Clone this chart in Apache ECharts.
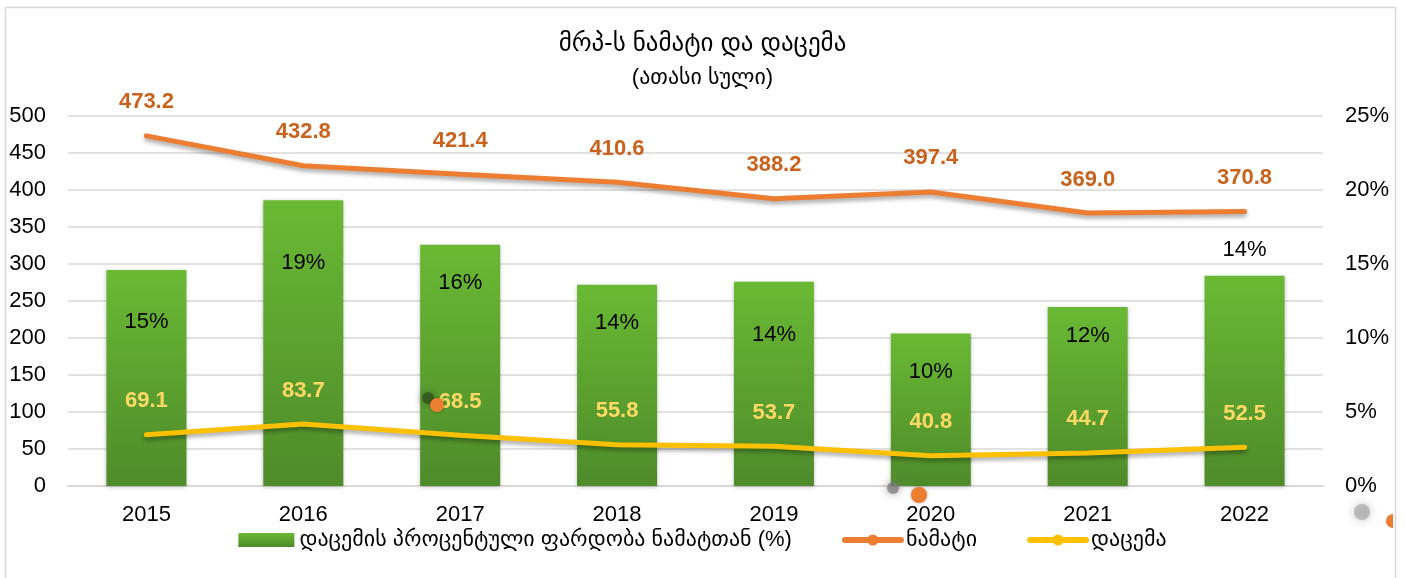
<!DOCTYPE html>
<html>
<head>
<meta charset="utf-8">
<script src="https://cdn.jsdelivr.net/npm/echarts@6/dist/echarts.min.js"></script>
<style>
html, body { margin: 0; padding: 0; background: #fff; }
#chart { width: 1405px; height: 578px; }
</style>
</head>
<body>
<div id="chart"></div>
<script>
// data
const years = ['2015', '2016', '2017', '2018', '2019', '2020', '2021', '2022']
const growth = [473.2, 432.8, 421.4, 410.6, 388.2, 397.4, 369.0, 370.8]
const decline = [69.1, 83.7, 68.5, 55.8, 53.7, 40.8, 44.7, 52.5]
const declineShare = [14.6, 19.3, 16.3, 13.6, 13.8, 10.3, 12.1, 14.2]
const shareLabels = ['15%', '19%', '16%', '14%', '14%', '10%', '12%', '14%']
// vertical nudge of each percent label (Excel placed them unevenly)
const shareLabelDy = [36, 47, 22, 22, 37, 22, 13, -10]

const names = ['დაცემის პროცენტული ფარდობა ნამატთან (%)', 'ნამატი', 'დაცემა']
const font = 'Liberation Sans, Arial, DejaVu Sans, sans-serif'

const chart = echarts.init(document.getElementById('chart'))

const barData = declineShare.map((v, i) => {
  const above = shareLabelDy[i] < 0
  return {
    value: v,
    label: {
      position: above ? 'top' : 'insideTop',
      offset: [0, shareLabelDy[i]],
      formatter: shareLabels[i]
    }
  }
})

// stray marker blobs that sit in the original picture
const dot = (x, y, r) => ({
  type: 'circle',
  shape: { cx: x, cy: y, r: r },
  style: { fill: '#ED7D31', shadowColor: 'rgba(0,0,0,0.3)', shadowBlur: 3 },
  silent: true,
  z: 10
})
const smudge = (x, y, r, color) => ({
  type: 'circle',
  shape: { cx: x, cy: y, r: r },
  style: { fill: color, opacity: 0.7, shadowColor: color, shadowBlur: 8 },
  silent: true,
  z: 9
})

const option = {
  backgroundColor: '#fff',
  animation: false,
  textStyle: { fontFamily: font },
  title: {
    text: 'მრპ-ს ნამატი და დაცემა',
    subtext: '(ათასი სული)',
    left: 'center',
    top: 27,
    itemGap: 10,
    textStyle: { fontSize: 25, fontWeight: 'normal', color: '#000', fontFamily: font },
    subtextStyle: { fontSize: 22, color: '#000', fontFamily: font }
  },
  grid: { left: 68, right: 82, top: 116, bottom: 92 },
  legend: {
    bottom: 22,
    left: 'center',
    itemGap: 50,
    itemWidth: 56,
    itemHeight: 14,
    textStyle: { fontSize: 22, color: '#000', fontFamily: font },
    data: [
      { name: names[0], icon: 'rect' },
      { name: names[1], lineStyle: { width: 6 } },
      { name: names[2], lineStyle: { width: 6 } }
    ]
  },
  xAxis: {
    type: 'category',
    data: years,
    axisTick: { show: false },
    axisLine: { lineStyle: { color: '#D9D9D9', width: 2 } },
    axisLabel: { color: '#000', fontSize: 22, margin: 18 }
  },
  yAxis: [
    {
      type: 'value',
      min: 0,
      max: 500,
      interval: 50,
      axisLine: { show: false },
      axisTick: { show: false },
      splitLine: { lineStyle: { color: '#D9D9D9', width: 1.5 } },
      axisLabel: { color: '#000', fontSize: 22, margin: 22 }
    },
    {
      type: 'value',
      min: 0,
      max: 25,
      interval: 5,
      axisLine: { show: false },
      axisTick: { show: false },
      splitLine: { show: false },
      axisLabel: { color: '#000', fontSize: 22, margin: 22, align: 'left', formatter: '{value}%' }
    }
  ],
  series: [
    {
      name: names[0],
      type: 'bar',
      yAxisIndex: 1,
      barWidth: '51%',
      data: barData,
      itemStyle: {
        color: new echarts.graphic.LinearGradient(0, 0, 0, 1, [
          { offset: 0, color: '#6AB934' },
          { offset: 1, color: '#4E8B2A' }
        ]),
        shadowColor: 'rgba(0,0,0,0.25)',
        shadowBlur: 4,
        shadowOffsetY: 1
      },
      label: {
        show: true,
        color: '#000',
        fontSize: 22,
        fontFamily: font
      },
      z: 1
    },
    {
      name: names[1],
      type: 'line',
      data: growth,
      symbol: 'circle',
      symbolSize: 1,
      lineStyle: {
        color: '#ED7D31',
        width: 5,
        cap: 'round',
        shadowColor: 'rgba(0,0,0,0.35)',
        shadowBlur: 4,
        shadowOffsetY: 3
      },
      itemStyle: { color: '#ED7D31' },
      label: {
        show: true,
        position: 'top',
        distance: 22,
        color: '#C9621C',
        fontWeight: 'bold',
        fontSize: 22,
        fontFamily: font,
        formatter: p => p.value.toFixed(1)
      },
      z: 3
    },
    {
      name: names[2],
      type: 'line',
      data: decline,
      symbol: 'circle',
      symbolSize: 1,
      lineStyle: {
        color: '#FFC000',
        width: 5,
        cap: 'round',
        shadowColor: 'rgba(0,0,0,0.35)',
        shadowBlur: 4,
        shadowOffsetY: 3
      },
      itemStyle: { color: '#FFC000' },
      label: {
        show: true,
        position: 'top',
        distance: 22,
        color: '#FFD966',
        fontWeight: 'bold',
        fontSize: 22,
        fontFamily: font,
        formatter: p => p.value.toFixed(1)
      },
      z: 3
    }
  ],
  graphic: [
    {
      type: 'rect',
      left: 3,
      top: 5,
      shape: { width: 1390, height: 600 },
      style: { fill: 'none', stroke: '#D9D9D9', lineWidth: 1.5 },
      silent: true
    },
    smudge(428, 398, 6, '#2f4f1a'),
    dot(437, 405, 7),
    smudge(893, 488, 6, '#777'),
    dot(919, 495, 8),
    smudge(1362, 512, 8, '#aaa'),
    {
      type: 'sector',
      shape: { cx: 1393, cy: 521, r: 7, startAngle: Math.PI / 2, endAngle: Math.PI * 3 / 2 },
      style: { fill: '#ED7D31' },
      silent: true,
      z: 10
    }
  ]
}

chart.setOption(option)
</script>
</body>
</html>
